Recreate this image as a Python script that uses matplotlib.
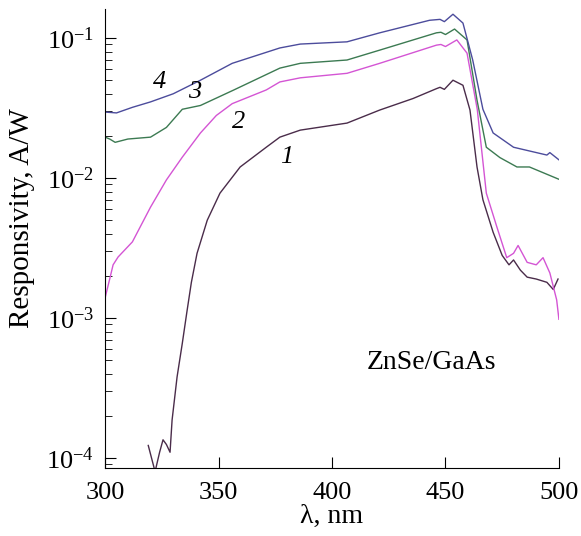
import numpy as np
import matplotlib.pyplot as plt

plt.rcParams['font.family'] = ['Liberation Serif', 'DejaVu Serif']
plt.rcParams['mathtext.fontset'] = 'stix'

# curve 1
wl1 = [319, 322, 324, 325.5, 327, 328.6, 329.5, 331.7, 334, 336, 338, 340.5, 345, 350.6, 359.5, 371, 377,
       386, 406.6, 421, 435.7, 446, 447.6, 449.5, 453.3, 457.7, 460.8, 463.9, 466.5, 471, 475, 478, 480,
       483, 486, 490, 494.7, 497.5, 499.6]
r1 = [1.23e-4, 8.0e-5, 1.1e-4, 1.35e-4, 1.25e-4, 1.1e-4, 1.87e-4, 3.8e-4, 6.6e-4, 1.1e-3, 1.8e-3, 2.9e-3,
      5.0e-3, 7.8e-3, 0.012, 0.0166, 0.0196, 0.022, 0.0247, 0.0306, 0.037, 0.0435, 0.0445, 0.043, 0.050,
      0.046, 0.0306, 0.012, 0.007, 0.0041, 0.0028, 0.0024, 0.0026, 0.0022, 0.00196, 0.0019, 0.0018,
      0.0016, 0.0019]

# curve 2
wl2 = [300, 302, 303.5, 305.7, 312, 320, 327, 334, 342, 349, 356, 371, 377, 386, 406.6, 421, 446, 448,
       450, 455, 459.5, 464, 468, 472.6, 477, 480, 482, 486, 490, 493, 496, 499, 500]
r2 = [0.0014, 0.0019, 0.0024, 0.00273, 0.0035, 0.0062, 0.0097, 0.0141, 0.021, 0.028, 0.034, 0.0426,
      0.0486, 0.052, 0.056, 0.066, 0.089, 0.090, 0.087, 0.097, 0.078, 0.031, 0.0078, 0.0045, 0.0027,
      0.0029, 0.0033, 0.0025, 0.0024, 0.0027, 0.0021, 0.00135, 0.00098]

# curve 3
wl3 = [300, 302, 304.4, 310, 320, 327, 334, 342, 356.6, 377, 386, 406.6, 421, 446, 448, 450, 454, 459.5,
       463.9, 468, 474, 481.5, 487, 500]
r3 = [0.0196, 0.019, 0.018, 0.019, 0.0196, 0.023, 0.031, 0.033, 0.0425, 0.061, 0.066, 0.0697, 0.082,
      0.109, 0.110, 0.106, 0.116, 0.097, 0.036, 0.0166, 0.014, 0.012, 0.012, 0.0098]

# curve 4
wl4 = [300, 305, 312, 320, 330, 342, 356, 377, 386, 406.6, 421, 443, 447.6, 449.5, 453.3, 457.7, 462,
       466.5, 471, 480, 494.7, 496, 500]
r4 = [0.0296, 0.0292, 0.032, 0.035, 0.040, 0.050, 0.066, 0.085, 0.0906, 0.094, 0.109, 0.134, 0.136,
      0.131, 0.148, 0.128, 0.0697, 0.031, 0.021, 0.0166, 0.0146, 0.0152, 0.0135]

colors = ['#4a2c4a', '#d455d4', '#3c7a52', '#4c4c9c']
labels = ['1', '2', '3', '4']
label_pos = [(380, 0.0141), (358.6, 0.025), (339.6, 0.041), (324, 0.0486)]

fig = plt.figure(figsize=(5.81, 5.36), dpi=100)
ax = fig.add_axes([0.181, 0.127, 0.781, 0.856])

for wl, r, c in zip([wl1, wl2, wl3, wl4], [r1, r2, r3, r4], colors):
    ax.plot(wl, r, color=c, lw=1.0)

for lab, (x, y) in zip(labels, label_pos):
    ax.text(x, y, lab, fontsize=19, style='italic', ha='center', va='center')

ax.text(444, 4.8e-4, 'ZnSe/GaAs', fontsize=20, ha='center', va='center')

ax.set_yscale('log')
ax.set_xlim(300, 500)
ax.set_ylim(8.5e-5, 0.161)
ax.set_xticks([300, 350, 400, 450, 500])
ax.spines['top'].set_visible(False)
ax.spines['right'].set_visible(False)
ax.tick_params(which='both', direction='in', labelsize=19)
ax.tick_params(axis='x', pad=10)
ax.tick_params(axis='y', pad=8)
ax.tick_params(which='major', length=8)
ax.tick_params(which='minor', length=5)
ax.set_xlabel('λ, nm', fontsize=20, labelpad=0)
ax.set_ylabel('Responsivity, A/W', fontsize=21)
ax.yaxis.set_label_coords(-0.155, 0.545)

fig.savefig('out.png', dpi=100)
